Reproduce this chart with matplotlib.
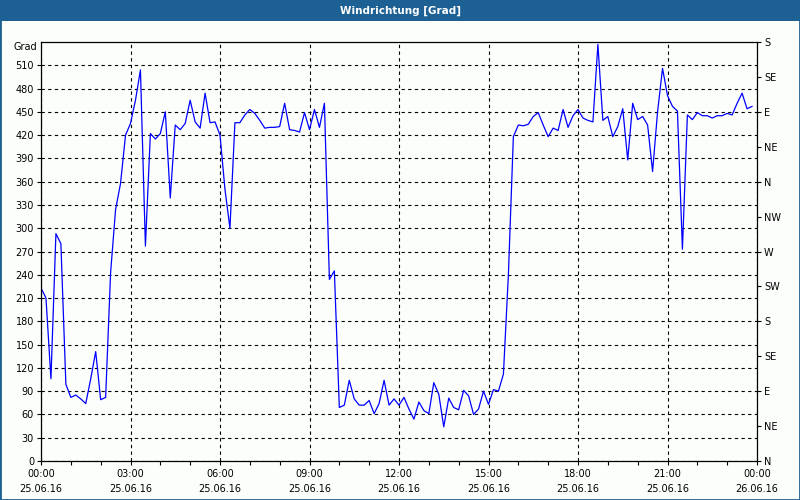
import numpy as np
import pandas as pd
import matplotlib
matplotlib.use('Agg')
import matplotlib.pyplot as plt
import matplotlib.dates as mdates
from matplotlib.patches import Rectangle

# wind direction in degrees, one value every 10 minutes
direction = [
    223, 210, 106, 293, 280, 99, 82, 85, 80, 74, 106, 141,
    79, 82, 243, 324, 358, 420, 435, 465, 504, 277, 422, 415,
    422, 450, 339, 433, 427, 435, 465, 437, 429, 474, 436, 437,
    420, 350, 300, 436, 436, 446, 453, 448, 439, 429, 430, 430,
    431, 461, 427, 426, 424, 449, 427, 453, 430, 461, 234, 245,
    69, 72, 104, 80, 72, 72, 78, 61, 74, 104, 72, 80,
    72, 82, 67, 54, 76, 65, 61, 101, 86, 44, 81, 69,
    66, 91, 84, 60, 67, 90, 73, 92, 90, 112, 240, 418,
    433, 432, 434, 444, 449, 433, 418, 429, 426, 453, 430, 445,
    453, 442, 439, 437, 537, 439, 444, 418, 431, 454, 388, 461,
    440, 444, 433, 373, 450, 506, 471, 457, 451, 273, 446, 440,
    449, 445, 445, 442, 445, 445, 448, 446, 461, 474, 454, 457,
]
times = pd.date_range('2016-06-25 00:00', periods=len(direction), freq='10min')

left_ticks = list(range(0, 540, 30))
right_ticks = list(range(0, 541, 45))
right_labels = ['N', 'NE', 'E', 'SE', 'S', 'SW', 'W', 'NW', 'N', 'NE', 'E', 'SE', 'S']

bar_color = '#1D6094'
bg = '#FCFEFC'

fig = plt.figure(figsize=(8, 5), dpi=100, facecolor=bg)

# window frame and title bar
fig.patches.append(Rectangle((0, 0), 1, 1, transform=fig.transFigure,
                             fill=False, edgecolor=bar_color, linewidth=2.0))
fig.patches.append(Rectangle((0, 1 - 21 / 500), 1, 21 / 500, transform=fig.transFigure,
                             facecolor=bar_color, edgecolor='none'))
fig.text(0.5, 1 - 10.5 / 500, 'Windrichtung [Grad]', color='white', fontsize=7.5,
         fontweight='bold', ha='center', va='center')

ax = fig.add_axes([41 / 800, 1 - 461 / 500, 716 / 800, 419 / 500])
ax.set_facecolor(bg)
ax.plot(times, direction, color='#0000FF', linewidth=0.9)

t0 = pd.Timestamp('2016-06-25 00:00')
ax.set_xlim(t0, t0 + pd.Timedelta(hours=24))
ax.set_ylim(0, 540)

ax.xaxis.set_major_locator(mdates.HourLocator(byhour=range(0, 24, 3)))
ax.xaxis.set_minor_locator(mdates.HourLocator())
ax.xaxis.set_major_formatter(mdates.DateFormatter('%H:%M\n%d.%m.%y'))
ax.set_yticks(left_ticks)

for sp in ax.spines.values():
    sp.set_linewidth(0.9)
    sp.set_color('black')

ax.tick_params(axis='x', which='major', length=3, width=0.8, labelsize=7, pad=3)
ax.tick_params(axis='x', which='minor', length=3, width=0.8)
ax.tick_params(axis='y', length=3, width=0.8, labelsize=7, pad=2)
for lbl in ax.get_xticklabels():
    lbl.set_linespacing(1.55)

ax.grid(True, which='major', color='black', linestyle=(0, (3, 3)), linewidth=0.8)

ax.text(-0.005, 1.0, 'Grad', transform=ax.transAxes, ha='right', va='top', fontsize=7)

ax2 = ax.twinx()
ax2.set_ylim(0, 540)
ax2.set_yticks(right_ticks)
ax2.set_yticklabels(right_labels)
ax2.tick_params(axis='y', length=3, width=0.8, labelsize=7, pad=2)
for sp in ax2.spines.values():
    sp.set_visible(False)

fig.savefig('out.png', dpi=100, facecolor=bg)
